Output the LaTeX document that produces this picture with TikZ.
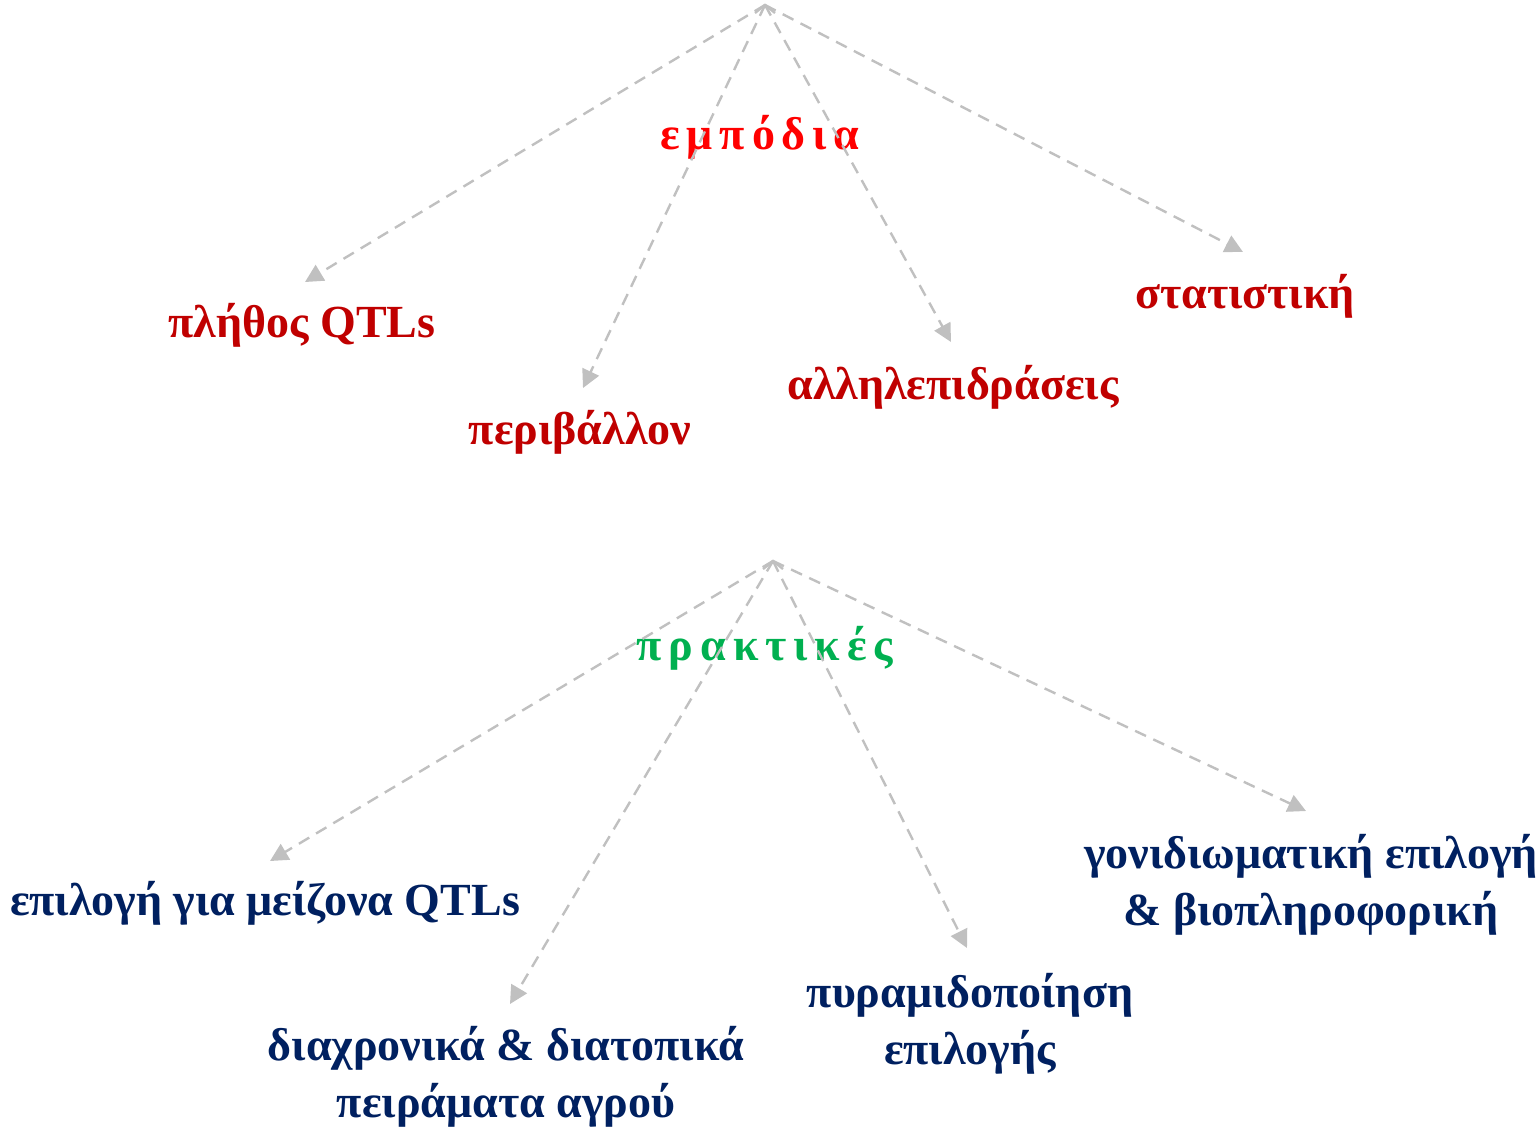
\documentclass[tikz,border=0pt]{standalone}
\usepackage{fontspec}
\setmainfont{Liberation Serif}
\usetikzlibrary{arrows.meta}
\definecolor{obstacle}{HTML}{FF0000}
\definecolor{darkred}{HTML}{C00000}
\definecolor{practice}{HTML}{00B050}
\definecolor{navy}{HTML}{002060}
\definecolor{link}{HTML}{C0C0C0}
\begin{document}
\begin{tikzpicture}[x=0.5pt,y=-0.5pt,
  branch/.style={draw=link, line width=1.2pt, dash pattern=on 6pt off 4pt,
    -{Triangle[length=9pt,width=9pt]}},
  spread/.style={font=\fontsize{23}{28}\selectfont\bfseries\addfontfeature{LetterSpace=15}},
  leaf/.style={font=\fontsize{23}{28.5}\selectfont\bfseries, align=center, inner sep=0pt}]
\useasboundingbox (0,0) rectangle (1539,1131);

% upper tree: obstacles
\coordinate (top) at (765,5);
\node[spread, text=obstacle] (obst) at (760,137) {εμπόδια};
\node[leaf, text=darkred] (nqtl) at (302,325) {πλήθος QTLs};
\node[leaf, text=darkred] (env) at (580,432) {περιβάλλον};
\node[leaf, text=darkred] (inter) at (953,387) {αλληλεπιδράσεις};
\node[leaf, text=darkred] (stat) at (1245,296) {στατιστική};
\coordinate (nqtlT) at (305,282);
\coordinate (envT) at (583,388);
\coordinate (interT) at (951,342);
\coordinate (statT) at (1243,252);

% lower tree: practices
\coordinate (bot) at (773,561);
\node[spread, text=practice] (prac) at (765,648) {πρακτικές};
\node[leaf, text=navy] (major) at (265,903) {επιλογή για μείζονα QTLs};
\node[leaf, text=navy] (trials) at (506,1077) {διαχρονικά \& διατοπικά\\πειράματα αγρού};
\node[leaf, text=navy] (pyr) at (970,1024) {πυραμιδοποίηση\\επιλογής};
\node[leaf, text=navy] (gen) at (1311,885) {γονιδιωματική επιλογή\\\& βιοπληροφορική};
\coordinate (majorT) at (270,861);
\coordinate (trialsT) at (510,1004);
\coordinate (pyrT) at (967,948);
\coordinate (genT) at (1306,811);

% connectors
\foreach \t in {nqtlT,envT,interT,statT}
  \draw[branch] (top) -- (\t);
\foreach \t in {majorT,trialsT,pyrT,genT}
  \draw[branch] (bot) -- (\t);
% small open tips where the branches meet
\foreach \p in {top,bot}
  \draw[link, line width=1.2pt] ([xshift=-5pt,yshift=-4pt]\p) -- (\p) -- ([xshift=5pt,yshift=-4pt]\p);
\end{tikzpicture}
\end{document}
